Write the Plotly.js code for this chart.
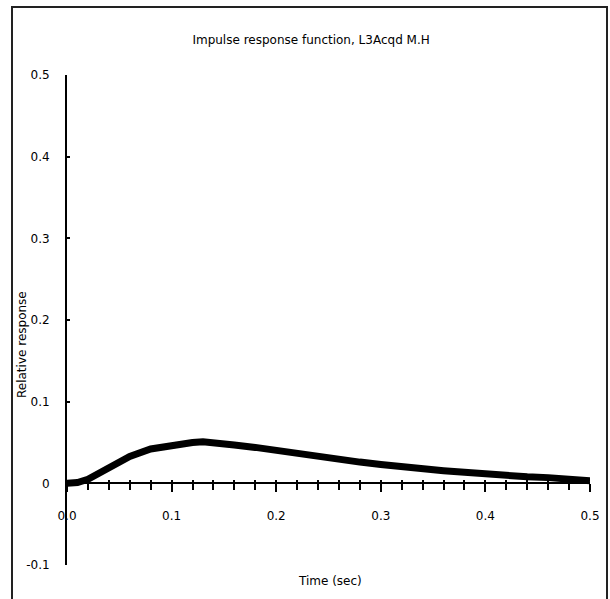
<!DOCTYPE html>
<html>
<head>
<meta charset="utf-8">
<script src="https://cdn.plot.ly/plotly-3.0.1.min.js"></script>
<style>
html,body{margin:0;padding:0;background:#fff;}
#chart{width:610px;height:599px;}
</style>
</head>
<body>
<div id="chart"></div>
<script>
const timeSec = [0, 0.01, 0.02, 0.04, 0.06, 0.08, 0.10, 0.12, 0.13, 0.14, 0.16, 0.18, 0.20, 0.22, 0.24, 0.26, 0.28, 0.30, 0.32, 0.34, 0.36, 0.38, 0.40, 0.42, 0.44, 0.46, 0.48, 0.50];
const response = [0, 0.001, 0.005, 0.020, 0.033, 0.042, 0.047, 0.050, 0.051, 0.049, 0.047, 0.044, 0.040, 0.036, 0.033, 0.029, 0.026, 0.023, 0.020, 0.018, 0.0155, 0.0135, 0.011, 0.0095, 0.008, 0.007, 0.005, 0.003];
const xTickVals = [0, 0.1, 0.2, 0.3, 0.4, 0.5];
const xTickText = ["0.0", "0.1", "0.2", "0.3", "0.4", "0.5"];
const yTickVals = [-0.1, 0, 0.1, 0.2, 0.3, 0.4, 0.5];
const yTickText = ["-0.1", "0", "0.1", "0.2", "0.3", "0.4", "0.5"];
const chartTitle = "Impulse response function, L3Acqd M.H";
const xTitle = "Time (sec)";
const yTitle = "Relative response";

const fam = "DejaVu Sans, Verdana, sans-serif";
const font = {family: fam, size: 11, color: "#000"};
const zeroPos = 0.1 / 0.6;

const traces = [{
  x: timeSec, y: response, type: "scatter", mode: "lines",
  line: {color: "#000", width: 7}, hoverinfo: "skip", showlegend: false
}, {
  x: [0, 0.5], y: [null, null], xaxis: "x2", yaxis: "y", type: "scatter", mode: "lines",
  showlegend: false, hoverinfo: "skip"
}];

const layout = {
  width: 610, height: 599,
  margin: {l: 67, r: 20, t: 75, b: 34, pad: 0},
  paper_bgcolor: "#fff", plot_bgcolor: "#fff",
  font: font,
  showlegend: false,
  title: {text: chartTitle, font: {family: fam, size: 12, color: "#000"},
          x: 0.51, xref: "container", y: 1 - 40/599, yref: "container", yanchor: "middle"},
  xaxis: {
    range: [0, 0.5], anchor: "free", position: zeroPos,
    showgrid: false, zeroline: false, showline: true, linecolor: "#000", linewidth: 2,
    tickvals: xTickVals, ticktext: xTickText,
    ticks: "outside", ticklen: 8, tickwidth: 2, tickcolor: "#000",
    minor: {dtick: 0.02, tick0: 0, ticks: "outside", ticklen: 6, tickwidth: 2, tickcolor: "#000", showgrid: false},
    ticklabelstandoff: 13,
    tickfont: {family: fam, size: 12, color: "#000"},
    fixedrange: true
  },
  xaxis2: {
    range: [0, 0.5], overlaying: "x", anchor: "free", position: zeroPos,
    showgrid: false, zeroline: false, showline: false,
    dtick: 0.02, tick0: 0, ticks: "inside", ticklen: 3, tickwidth: 2, tickcolor: "#000",
    showticklabels: false, fixedrange: true
  },
  yaxis: {
    range: [-0.1, 0.5], domain: [0, 1],
    showgrid: false, zeroline: false, showline: true, linecolor: "#000", linewidth: 2,
    tickvals: yTickVals, ticktext: yTickText,
    ticks: "inside", ticklen: 3, tickwidth: 2, tickcolor: "#000",
    ticklabelstandoff: 13,
    tickfont: {family: fam, size: 12, color: "#000"},
    fixedrange: true
  },
  annotations: [
    {text: xTitle, xref: "paper", yref: "paper", x: (330-67)/523, y: (565-581)/490,
     xanchor: "center", yanchor: "middle", showarrow: false, font: {family: fam, size: 12, color: "#000"}},
    {text: yTitle, xref: "paper", yref: "paper", x: (22-67)/523, y: (565-345)/490, textangle: -90,
     xanchor: "center", yanchor: "middle", showarrow: false, font: {family: fam, size: 12, color: "#000"}}
  ],
  shapes: [
    {type: "rect", xref: "paper", yref: "paper", x0: (12-67)/523, x1: (607-67)/523,
     y0: -0.2, y1: (565-7)/490, line: {color: "#222", width: 2}, fillcolor: "rgba(0,0,0,0)", layer: "above"}
  ]
};

Plotly.newPlot("chart", traces, layout, {displayModeBar: false, staticPlot: true});
</script>
</body>
</html>
